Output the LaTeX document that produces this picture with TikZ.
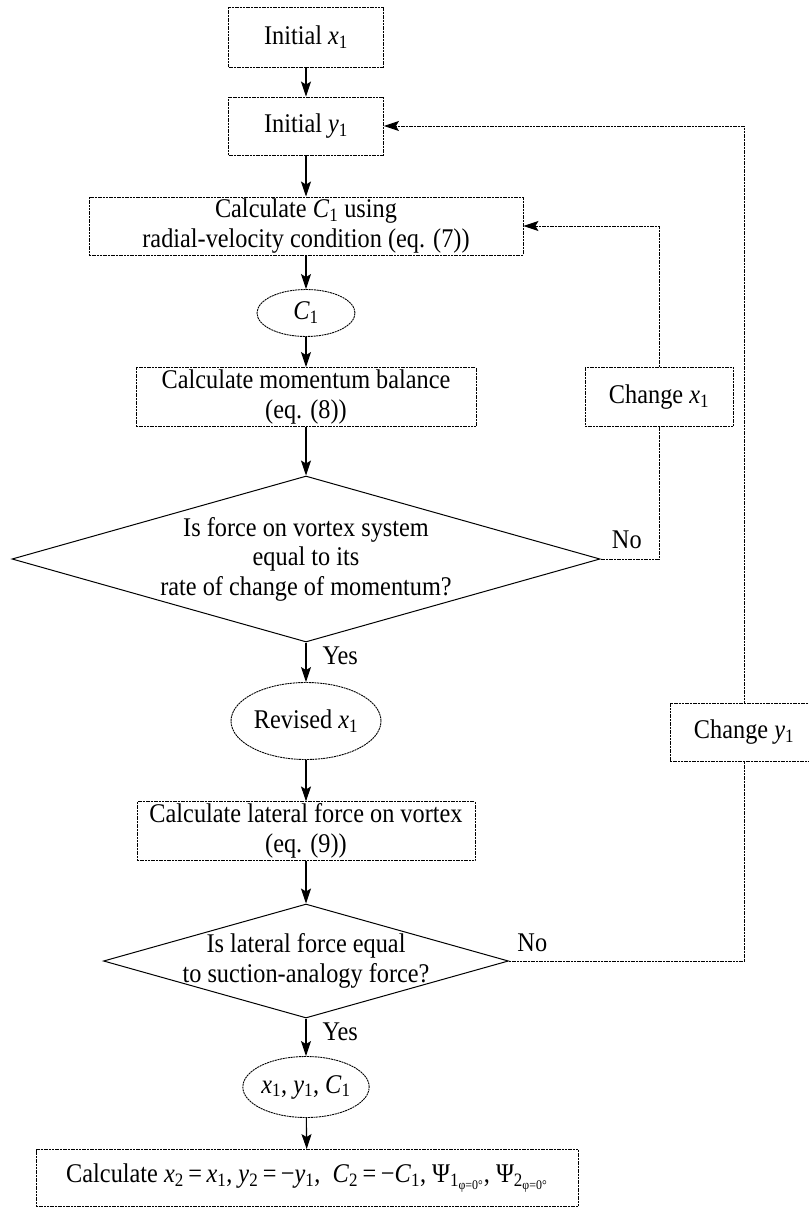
\documentclass[tikz,border=0pt]{standalone}
\usepackage{fontspec}
\setmainfont{Liberation Serif}[FakeStretch=0.9]
\usetikzlibrary{arrows.meta,shapes.geometric}

\newcommand{\vsb}[2]{\textit{#1}\textsubscript{#2}}

\begin{document}
\begin{tikzpicture}[
    x=1pt, y=-1pt,
    font=\fontsize{27}{29.5}\selectfont,
    thinline/.style={line width=0.9pt, dash pattern=on 2pt off 0.7pt},
    box/.style 2 args={draw, thinline, rectangle, align=center, inner sep=2pt,
        minimum width=#1, minimum height=#2},
    oval/.style 2 args={draw, thinline, ellipse, inner sep=0pt,
        minimum width=#1, minimum height=#2},
    decide/.style 2 args={draw, line width=1pt, diamond, inner sep=0pt,
        minimum width=#1, minimum height=#2},
    tip/.style={-{Stealth[length=15pt,width=10pt,inset=3pt]}},
    arr/.style={tip, line width=1.1pt},
    back/.style={thinline},
    backarr/.style={thinline, tip},
    lbl/.style={inner sep=0pt}
]
\useasboundingbox (0,0) rectangle (808,1209);

% main column
\node[box={155}{60}] (initx) at (306, 37) {Initial \vsb{x}{1}};
\node[box={155}{58}] (inity) at (306, 126) {Initial \vsb{y}{1}};
\node[box={434}{58}] (calcc) at (306, 226) {Calculate \vsb{C}{1} using\\radial-velocity condition (eq. (7))};
\node[oval={98}{47}] (cone) at (306, 313) {\vsb{C}{1}};
\node[box={340}{59}] (mom) at (306, 397) {Calculate momentum balance\\(eq. (8))};
\node[decide={588}{166},
      label={[align=center]center:Is force on vortex system\\equal to its\\rate of change of momentum?}]
      (q1) at (306, 559) {};
\node[oval={150}{77}] (rev) at (306, 721) {Revised \vsb{x}{1}};
\node[box={338}{58}] (lat) at (306, 831) {Calculate lateral force on vortex\\(eq. (9))};
\node[decide={405}{114},
      label={[align=center]center:Is lateral force equal\\to suction-analogy force?}]
      (q2) at (306, 961) {};
\node[oval={123}{61}] (res) at (306, 1087) {\vsb{x}{1}, \vsb{y}{1}, \vsb{C}{1}};
\node[box={542}{57}] (fin) at (307, 1178)
    {Calculate \vsb{x}{2}\,=\,\vsb{x}{1}, \vsb{y}{2}\,=\,−\vsb{y}{1},\ \ \vsb{C}{2}\,=\,−\vsb{C}{1},
     Ψ\textsubscript{1\textsubscript{φ=0°}}, Ψ\textsubscript{2\textsubscript{φ=0°}}};

% loop boxes
\node[box={148}{59}] (chx) at (659, 397) {Change \vsb{x}{1}};
\node[box={148}{58}] (chy) at (744, 732) {Change \vsb{y}{1}};

% flow
\draw[arr] (initx) -- (inity);
\draw[arr] (inity) -- (calcc);
\draw[arr] (calcc) -- (cone);
\draw[arr] (cone) -- (mom);
\draw[arr] (mom) -- (q1);
\draw[arr] (q1) -- node[lbl, at start, anchor=north west, xshift=16pt, yshift=-4pt] {Yes} (rev);
\draw[arr] (rev) -- (lat);
\draw[arr] (lat) -- (q2);
\draw[arr] (q2) -- node[lbl, at start, anchor=north west, xshift=16pt, yshift=-4pt] {Yes} (res);
\draw[arr] (res) -- (fin);

% loops
\draw[back] (q1.east) -| node[lbl, at start, anchor=south west, xshift=11pt, yshift=10pt] {No} (chx.south);
\draw[backarr] (chx.north) |- (calcc.east);
\draw[back] (q2.east) -| node[lbl, at start, anchor=south west, xshift=8pt, yshift=9pt] {No} (chy.south);
\draw[backarr] (chy.north) |- (inity.east);
\end{tikzpicture}
\end{document}
